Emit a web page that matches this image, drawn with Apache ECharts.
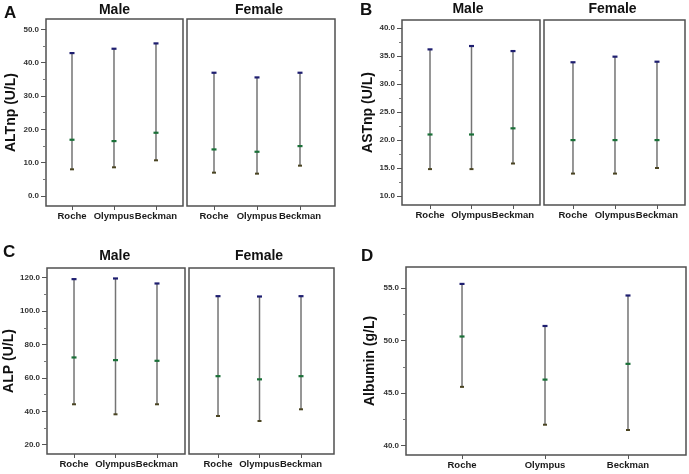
<!DOCTYPE html>
<html>
<head>
<meta charset="utf-8">
<script src="https://cdn.jsdelivr.net/npm/echarts@6/dist/echarts.min.js"></script>
<style>
html,body{margin:0;padding:0;background:#fff;}
#chart{width:689px;height:474px;}
</style>
</head>
<body>
<div id="chart"></div>
<script>
// ---- data ----
const categories = ['Roche', 'Olympus', 'Beckman'];

const altMaleUpper = [42.9, 44.2, 45.8];
const altMaleMedian = [16.9, 16.5, 19.0];
const altMaleLower = [8.0, 8.6, 10.7];
const altFemaleUpper = [37.0, 35.6, 37.0];
const altFemaleMedian = [14.0, 13.3, 15.0];
const altFemaleLower = [7.0, 6.7, 9.1];

const astMaleUpper = [36.2, 36.8, 35.9];
const astMaleMedian = [21.0, 21.0, 22.1];
const astMaleLower = [14.8, 14.8, 15.8];
const astFemaleUpper = [33.9, 34.9, 34.0];
const astFemaleMedian = [20.0, 20.0, 20.0];
const astFemaleLower = [14.0, 14.0, 15.0];

const alpMaleUpper = [119.2, 119.6, 116.6];
const alpMaleMedian = [72.3, 70.7, 70.3];
const alpMaleLower = [44.2, 38.2, 44.2];
const alpFemaleUpper = [109.0, 108.8, 109.0];
const alpFemaleMedian = [61.1, 59.2, 61.1];
const alpFemaleLower = [37.2, 34.2, 41.2];

const albUpper = [55.4, 51.4, 54.3];
const albMedian = [50.4, 46.3, 47.8];
const albLower = [45.6, 42.0, 41.5];

// tick labels (major) and minor tick values per panel
const altTicks = [0, 10, 20, 30, 40, 50];
const altMinor = [5, 15, 25, 35, 45];
const astTicks = [10, 15, 20, 25, 30, 35, 40];
const astMinor = [12.5, 17.5, 22.5, 27.5, 32.5, 37.5];
const alpTicks = [20, 40, 60, 80, 100, 120];
const alpMinor = [30, 50, 70, 90, 110];
const albTicks = [40, 45, 50, 55];
const albMinor = [42.5, 47.5, 52.5];

// ---- chart ----
const FONT = "'Liberation Sans', Arial, sans-serif";
const chart = echarts.init(document.getElementById('chart'), null, {renderer: 'canvas'});

const grids = [], xAxes = [], yAxes = [], series = [];
const catIdx = categories.map((c, i) => i);

function toRows(lower, median, upper) {
  return categories.map((c, i) => [i, lower[i], median[i], upper[i]]);
}

function renderItem(params, api) {
  const x = api.value(0);
  const lo = api.coord([x, api.value(1)]);
  const md = api.coord([x, api.value(2)]);
  const hi = api.coord([x, api.value(3)]);
  return {
    type: 'group',
    children: [
      {type: 'line', shape: {x1: lo[0], y1: lo[1], x2: hi[0], y2: hi[1]},
       style: {stroke: '#747474', lineWidth: 1.5}},
      {type: 'rect', shape: {x: hi[0] - 2.5, y: hi[1] - 1, width: 5, height: 2.2},
       style: {fill: '#1e1e70'}},
      {type: 'rect', shape: {x: md[0] - 2.5, y: md[1] - 1, width: 5, height: 2.2},
       style: {fill: '#1a7038'}},
      {type: 'rect', shape: {x: lo[0] - 2, y: lo[1] - 1, width: 4, height: 2},
       style: {fill: '#4a4422'}}
    ]
  };
}

// p: {box:[l,t,w,h], xr:[min,max], yr:[min,max], ticks, minor, showY, name, nameGap, rows}
function addPanel(p) {
  const gi = grids.length;
  grids.push({left: p.box[0], top: p.box[1], width: p.box[2], height: p.box[3],
    show: true, borderColor: '#505050', borderWidth: 1.5, backgroundColor: 'transparent'});
  const xi = xAxes.length;
  xAxes.push({
    gridIndex: gi, type: 'value', min: p.xr[0], max: p.xr[1], position: 'bottom',
    axisLine: {show: false, onZero: false},
    splitLine: {show: false},
    axisTick: {show: true, length: 4, customValues: catIdx, lineStyle: {color: '#555', width: 1}},
    axisLabel: {show: true, margin: 5, customValues: catIdx, fontSize: 9.5, fontWeight: 'bold',
      color: '#1a1a1a', fontFamily: FONT,
      formatter: v => categories[Math.round(v)] || ''}
  });
  const yi = yAxes.length;
  yAxes.push({
    gridIndex: gi, type: 'value', show: p.showY, min: p.yr[0], max: p.yr[1], position: 'left',
    axisLine: {show: false, onZero: false},
    splitLine: {show: false},
    axisTick: {show: true, length: 5, customValues: p.ticks, lineStyle: {color: '#555', width: 1}},
    axisLabel: {margin: 7, customValues: p.ticks, fontSize: 8, fontWeight: 'bold', color: '#333',
      fontFamily: FONT, formatter: v => v.toFixed(1)},
    name: p.name || '', nameLocation: 'middle', nameGap: p.nameGap || 0,
    nameTextStyle: {fontSize: 14, fontWeight: 'bold', color: '#111', fontFamily: FONT}
  });
  // minor ticks on the same left edge
  yAxes.push({
    gridIndex: gi, type: 'value', show: p.showY, min: p.yr[0], max: p.yr[1], position: 'left',
    axisLine: {show: false, onZero: false}, splitLine: {show: false}, axisLabel: {show: false},
    axisTick: {show: true, length: 3, customValues: p.minor, lineStyle: {color: '#777', width: 1}}
  });
  series.push({
    type: 'custom', xAxisIndex: xi, yAxisIndex: yi, renderItem: renderItem,
    clip: false, silent: true,
    encode: {x: 0, y: [1, 2, 3]},
    data: p.rows
  });
}

// Panel A
const altY = [-3.0, 53.09];
addPanel({box: [46, 19, 137, 187], xr: [-0.619, 2.643], yr: altY, ticks: altTicks, minor: altMinor,
  showY: true, name: 'ALTnp (U/L)', nameGap: 28, rows: toRows(altMaleLower, altMaleMedian, altMaleUpper)});
addPanel({box: [187, 19, 148, 187], xr: [-0.628, 2.814], yr: altY, ticks: altTicks, minor: altMinor,
  showY: false, rows: toRows(altFemaleLower, altFemaleMedian, altFemaleUpper)});
// Panel B
const astY = [8.39, 41.43];
addPanel({box: [402, 20, 138, 185], xr: [-0.675, 2.651], yr: astY, ticks: astTicks, minor: astMinor,
  showY: true, name: 'ASTnp (U/L)', nameGap: 22, rows: toRows(astMaleLower, astMaleMedian, astMaleUpper)});
addPanel({box: [544, 20, 141, 185], xr: [-0.690, 2.667], yr: astY, ticks: astTicks, minor: astMinor,
  showY: false, rows: toRows(astFemaleLower, astFemaleMedian, astFemaleUpper)});
// Panel C
const alpY = [14.43, 125.81];
addPanel({box: [47, 268, 138, 186], xr: [-0.651, 2.675], yr: alpY, ticks: alpTicks, minor: alpMinor,
  showY: true, name: 'ALP (U/L)', nameGap: 30, rows: toRows(alpMaleLower, alpMaleMedian, alpMaleUpper)});
addPanel({box: [189, 268, 145, 186], xr: [-0.699, 2.795], yr: alpY, ticks: alpTicks, minor: alpMinor,
  showY: false, rows: toRows(alpFemaleLower, alpFemaleMedian, alpFemaleUpper)});
// Panel D
addPanel({box: [406, 267, 280, 188], xr: [-0.675, 2.699], yr: [39.12, 57.0], ticks: albTicks, minor: albMinor,
  showY: true, name: 'Albumin (g/L)', nameGap: 29, rows: toRows(albLower, albMedian, albUpper)});

function label(text, x, y, size, align) {
  return {type: 'text', x: x, y: y, silent: true,
    style: {text: text, fontSize: size, fontWeight: 'bold', fill: '#111', fontFamily: FONT,
      align: align || 'center', verticalAlign: 'middle'}};
}

const graphics = [
  label('A', 4, 13.5, 17, 'left'),
  label('Male', 114.5, 10.5, 14),
  label('Female', 259, 10.5, 14),
  label('B', 360, 10, 17, 'left'),
  label('Male', 468, 9.5, 14),
  label('Female', 612.5, 9.5, 14),
  label('C', 3, 252.5, 17, 'left'),
  label('Male', 114.7, 256, 14),
  label('Female', 259, 256, 14),
  label('D', 361, 256.5, 17, 'left')
];

chart.setOption({
  backgroundColor: '#ffffff',
  animation: false,
  grid: grids,
  xAxis: xAxes,
  yAxis: yAxes,
  series: series,
  graphic: graphics
});
</script>
</body>
</html>
